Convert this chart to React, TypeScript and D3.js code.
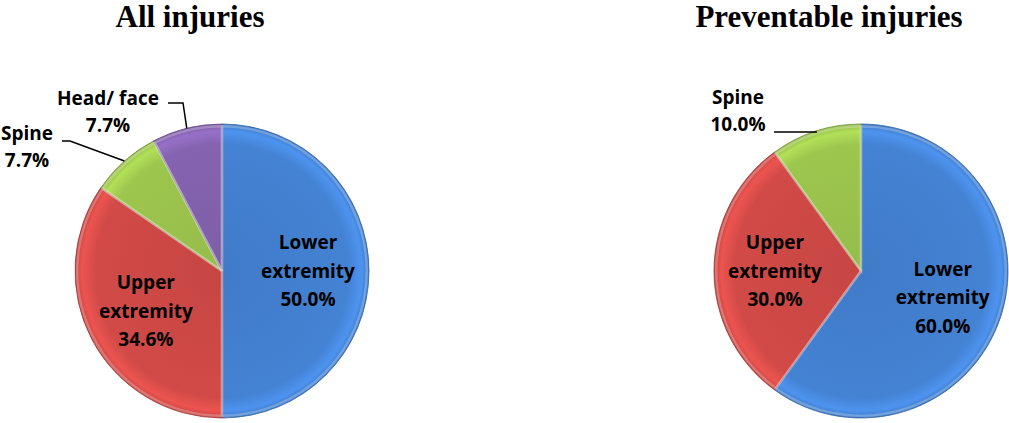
import React from "react";
import * as d3 from "d3";

const categories = ["Lower extremity", "Upper extremity", "Spine", "Head/ face"];
const allValues = [50.0, 34.6, 7.7, 7.7];
const preventableValues = [60.0, 30.0, 10.0];
const titles = ["All injuries", "Preventable injuries"];
const colors = ["#4482D3", "#D14A47", "#9DC64E", "#8563B0"];

const W = 1009;
const H = 423;
const R = 147;

type LabelCfg = { inside: boolean; x?: number; y?: number; lines: string[]; elbow?: [number, number]; hstart?: number };

interface PieSpec {
  title: string;
  values: number[];
  cx: number;
  cy: number;
  titleX: number;
  labels: LabelCfg[];
}

const pies: PieSpec[] = [
  {
    title: titles[0],
    values: allValues,
    cx: 222,
    cy: 271,
    titleX: 190,
    labels: [
      { inside: true, lines: ["Lower", "extremity"] },
      { inside: true, lines: ["Upper", "extremity"] },
      { inside: false, x: 27, y: 133, lines: ["Spine"], elbow: [70, 141], hstart: 62 },
      { inside: false, x: 108, y: 98, lines: ["Head/ face"], elbow: [183, 103], hstart: 168 },
    ],
  },
  {
    title: titles[1],
    values: preventableValues,
    cx: 861,
    cy: 271,
    titleX: 829,
    labels: [
      { inside: true, lines: ["Lower", "extremity"] },
      { inside: true, lines: ["Upper", "extremity"] },
      { inside: false, x: 738, y: 97, lines: ["Spine"], elbow: [816, 132], hstart: 774 },
    ],
  },
];

const LINE_H = 28.7;
const labelFont = "'Open Sans', 'Noto Sans', sans-serif";
const labelSize = 19;

function Pie({ spec, idx }: { spec: PieSpec; idx: number }) {
  const pie = d3.pie<number>().sort(null).value((d) => d);
  const arcs = pie(spec.values);
  const arc = d3.arc<d3.PieArcDatum<number>>().innerRadius(0).outerRadius(R);
  const edgeArc = d3.arc<d3.PieArcDatum<number>>().innerRadius(R).outerRadius(R);
  const labelArc = d3.arc<d3.PieArcDatum<number>>().innerRadius(R * 0.585).outerRadius(R * 0.585);
  const fmt = (v: number) => v.toFixed(1) + "%";

  return (
    <g>
      <text
        x={spec.titleX}
        y={27}
        textAnchor="middle"
        fontFamily="'Liberation Serif', 'Times New Roman', serif"
        fontWeight="bold"
        fontSize={31}
        fill="#000"
      >
        {spec.title}
      </text>
      <g transform={`translate(${spec.cx},${spec.cy})`}>
        {arcs.map((a, i) => (
          <path
            key={i}
            d={arc(a) || ""}
            fill={`url(#grad-${idx}-${i})`}
            stroke={d3.color(colors[i])!.darker(0.8).formatHex()}
            strokeWidth={0.8}
          />
        ))}
        {arcs.map((a, i) => (
          <path key={"h" + i} d={arc(a) || ""} fill="none" stroke="rgba(255,255,255,0.25)" strokeWidth={2.5} transform="scale(0.985)" />
        ))}
      </g>
      {arcs.map((a, i) => {
        const lab = spec.labels[i];
        const lines = [...lab.lines, fmt(spec.values[i])];
        if (lab.inside) {
          const [lx, ly] = labelArc.centroid(a);
          const x = spec.cx + lx;
          const y = spec.cy + ly;
          const y0 = y - ((lines.length - 1) * LINE_H) / 2;
          return (
            <text key={"l" + i} x={x} textAnchor="middle" fontFamily={labelFont} fontWeight="bold" fontSize={labelSize} fill="#000">
              {lines.map((t, j) => (
                <tspan key={j} x={x} y={y0 + j * LINE_H} dy="0.35em">
                  {t}
                </tspan>
              ))}
            </text>
          );
        }
        const [ex, ey] = edgeArc.centroid(a);
        const px = spec.cx + ex;
        const py = spec.cy + ey;
        const el = lab.elbow!;
        const pts: [number, number][] = [
          [px, py],
          [el[0], el[1]],
          [lab.hstart!, el[1]],
        ];
        return (
          <g key={"l" + i}>
            <text textAnchor="middle" fontFamily={labelFont} fontWeight="bold" fontSize={labelSize} fill="#000">
              {lines.map((t, j) => (
                <tspan key={j} x={lab.x} y={lab.y! + j * 27} dy="0.35em">
                  {t}
                </tspan>
              ))}
            </text>
            <path d={d3.line()(pts) || ""} fill="none" stroke="#000" strokeWidth={1.5} />
          </g>
        );
      })}
    </g>
  );
}

export default function App() {
  return (
    <svg width={W} height={H} style={{ position: "absolute", left: 0, top: 0, background: "#fff" }}>
      <defs>
        {pies.map((p, pi) =>
          p.values.map((_, i) => {
            const c = d3.color(colors[i])!;
            return (
              <radialGradient key={`${pi}-${i}`} id={`grad-${pi}-${i}`} gradientUnits="userSpaceOnUse" cx={0} cy={0} r={R}>
                <stop offset="0" stopColor={c.darker(0.15).formatHex()} />
                <stop offset="0.86" stopColor={c.formatHex()} />
                <stop offset="0.95" stopColor={c.brighter(0.35).formatHex()} />
                <stop offset="1" stopColor={c.darker(0.2).formatHex()} />
              </radialGradient>
            );
          })
        )}
      </defs>
      {pies.map((p, i) => (
        <Pie key={i} spec={p} idx={i} />
      ))}
    </svg>
  );
}
